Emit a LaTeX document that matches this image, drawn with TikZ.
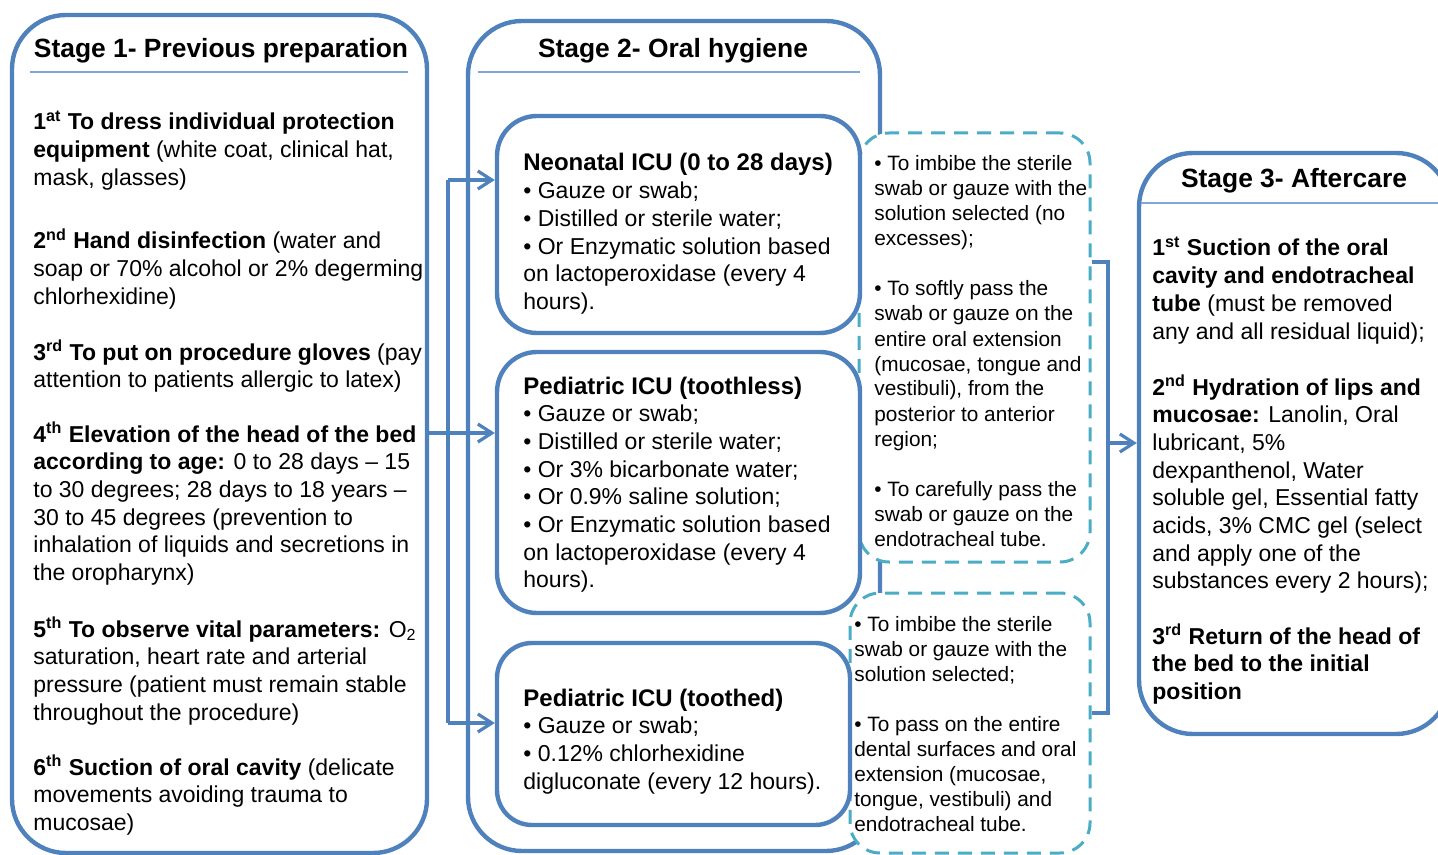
\documentclass[tikz,border=0pt]{standalone}
\usepackage{fontspec}
\setmainfont{Liberation Sans}
\usetikzlibrary{arrows.meta}
\definecolor{boxblue}{HTML}{4F81BD}
\definecolor{dashcyan}{HTML}{4BACC6}
\definecolor{seplight}{HTML}{7FA6D6}
\newcommand{\sps}[1]{\textsuperscript{#1}}
\newcommand{\hdr}[1]{{\fontsize{12}{13.85}\selectfont\bfseries #1}}
\begin{document}
\begin{tikzpicture}[x=0.5pt,y=-0.5pt,
  stagebox/.style={draw=boxblue, line width=2.2pt, fill=white, rounded corners=27pt, inner sep=0pt},
  innerbox/.style={draw=boxblue, line width=2.2pt, fill=white, rounded corners=20pt, inner sep=0pt},
  dashbox/.style={draw=dashcyan, line width=1.5pt, dash pattern=on 7pt off 4.5pt, fill=white, rounded corners=15pt, inner sep=0pt},
  sepline/.style={draw=seplight, line width=0.6pt},
  conn/.style={draw=boxblue, line width=1.6pt},
  arr/.style={-{Straight Barb[length=7pt,width=9pt]}},
  title/.style={anchor=base, inner sep=0pt, font=\fontsize{13.2}{15}\selectfont\bfseries},
  body/.style={anchor=base west, inner sep=0pt, font=\fontsize{11.5}{13.85}\selectfont},
  small/.style={anchor=base west, inner sep=0pt, font=\fontsize{10.4}{12.5}\selectfont},
]
\useasboundingbox (0,0) rectangle (1438,855);

% big stage boxes
\node[stagebox, minimum width=207.5pt, minimum height=419pt] (s1) at (219.5,434) {};
\node[stagebox, minimum width=206pt, minimum height=415pt] (s2) at (674,436) {};

% dashed boxes
\node[dashbox, minimum width=115.5pt, minimum height=214.5pt] (d1) at (974.5,347.5) {};
\node[dashbox, minimum width=120pt, minimum height=130pt] (d2) at (970,723) {};

% inner boxes
\node[innerbox, minimum width=181.5pt, minimum height=108.5pt] (neo) at (678.5,224.5) {};
\node[innerbox, minimum width=181.5pt, minimum height=130.5pt] (tl) at (678.5,482.5) {};
\node[innerbox, rounded corners=17.5pt, minimum width=176.5pt, minimum height=91pt] (td) at (673.5,734) {};

% stage 3
\node[stagebox, minimum width=155.5pt, minimum height=290.5pt] (s3) at (1294.5,443.5) {};

% titles and separators
\node[title] (t1) at (221,58) {Stage 1- Previous preparation};
\node[title] (t2) at (673,58) {Stage 2- Oral hygiene};
\node[title] (t3) at (1294,188) {Stage 3- Aftercare};
\draw[sepline] (30,72) -- (408,72);
\draw[sepline] (478,72) -- (860,72);
\draw[sepline] (1141,203) -- (1438,203);

% stage 1 text
\node[body] (p11) at (33,130) {\parbox[t]{215pt}{\raggedright
  \textbf{1\sps{at} To dress individual protection}\\
  \textbf{equipment} (white coat, clinical hat,\\
  mask, glasses)}};
\node[body] (p12) at (33,249) {\parbox[t]{215pt}{\raggedright
  \textbf{2\sps{nd} Hand disinfection} (water and\\
  soap or 70\% alcohol or 2\% degerming\\
  chlorhexidine)}};
\node[body] (p13) at (33,360) {\parbox[t]{215pt}{\raggedright
  \textbf{3\sps{rd} To put on procedure gloves} (pay\\
  attention to patients allergic to latex)}};
\node[body] (p14) at (33,442) {\parbox[t]{215pt}{\raggedright
  \textbf{4\sps{th} Elevation of the head of the bed}\\
  \textbf{according to age:} 0 to 28 days – 15\\
  to 30 degrees; 28 days to 18 years –\\
  30 to 45 degrees (prevention to\\
  inhalation of liquids and secretions in\\
  the oropharynx)}};
\node[body] (p15) at (33,637) {\parbox[t]{215pt}{\raggedright
  \textbf{5\sps{th} To observe vital parameters:} O\textsubscript{2}\\
  saturation, heart rate and arterial\\
  pressure (patient must remain stable\\
  throughout the procedure)}};
\node[body] (p16) at (33,775) {\parbox[t]{215pt}{\raggedright
  \textbf{6\sps{th} Suction of oral cavity} (delicate\\
  movements avoiding trauma to\\
  mucosae)}};

% inner box text
\node[body] (neot) at (523,171) {\parbox[t]{180pt}{\raggedright
  \hdr{Neonatal ICU (0 to 28 days)}\\
  • Gauze or swab;\\
  • Distilled or sterile water;\\
  • Or Enzymatic solution based\\
  on lactoperoxidase (every 4\\
  hours).}};
\node[body] (tlt) at (523,394) {\parbox[t]{180pt}{\raggedright
  \hdr{Pediatric ICU (toothless)}\\
  • Gauze or swab;\\
  • Distilled or sterile water;\\
  • Or 3\% bicarbonate water;\\
  • Or 0.9\% saline solution;\\
  • Or Enzymatic solution based\\
  on lactoperoxidase (every 4\\
  hours).}};
\node[body] (tdt) at (523,706) {\parbox[t]{180pt}{\raggedright
  \hdr{Pediatric ICU (toothed)}\\
  • Gauze or swab;\\
  • 0.12\% chlorhexidine\\
  digluconate (every 12 hours).}};

% dashed box text
\node[small] (d1a) at (874,171) {\parbox[t]{120pt}{\raggedright
  • To imbibe the sterile\\
  swab or gauze with the\\
  solution selected (no\\
  excesses);}};
\node[small] (d1b) at (874,296) {\parbox[t]{120pt}{\raggedright
  • To softly pass the\\
  swab or gauze on the\\
  entire oral extension\\
  (mucosae, tongue and\\
  vestibuli), from the\\
  posterior to anterior\\
  region;}};
\node[small] (d1c) at (874,496) {\parbox[t]{120pt}{\raggedright
  • To carefully pass the\\
  swab or gauze on the\\
  endotracheal tube.}};
\node[small] (d2a) at (854,631) {\parbox[t]{125pt}{\raggedright
  • To imbibe the sterile\\
  swab or gauze with the\\
  solution selected;}};
\node[small] (d2b) at (854,731) {\parbox[t]{125pt}{\raggedright
  • To pass on the entire\\
  dental surfaces and oral\\
  extension (mucosae,\\
  tongue, vestibuli) and\\
  endotracheal tube.}};

% stage 3 text
\node[body] (p31) at (1152,256) {\parbox[t]{150pt}{\raggedright
  \textbf{1\sps{st} Suction of the oral}\\
  \textbf{cavity and endotracheal}\\
  \textbf{tube} (must be removed\\
  any and all residual liquid);}};
\node[body] (p32) at (1152,395) {\parbox[t]{150pt}{\raggedright
  \textbf{2\sps{nd} Hydration of lips and}\\
  \textbf{mucosae:} Lanolin, Oral\\
  lubricant, 5\%\\
  dexpanthenol, Water\\
  soluble gel, Essential fatty\\
  acids, 3\% CMC gel (select\\
  and apply one of the\\
  substances every 2 hours);}};
\node[body] (p33) at (1152,644) {\parbox[t]{150pt}{\raggedright
  \textbf{3\sps{rd} Return of the head of}\\
  \textbf{the bed to the initial}\\
  \textbf{position}}};

% connectors stage 1 -> stage 2
\coordinate (sp1) at (448,180);
\coordinate (sp2) at (448,723);
\coordinate (mid) at (428,433);
\draw[conn] (sp1) -- (sp2);
\draw[conn, arr] (sp1) -- (neo.west |- sp1);
\draw[conn, arr] (sp2) -- (td.west |- sp2);
\draw[conn, arr] (s1.east |- mid) -- (tl.west |- mid);

% bracket and arrow to stage 3
\coordinate (bt) at (1108,262);
\coordinate (bb) at (1108,713);
\coordinate (bm) at (1108,443);
\draw[conn] (d1.east |- bt) -- (bt) -- (bb) -- (d2.east |- bb);
\draw[conn, arr] (bm) -- (s3.west |- bm);
\end{tikzpicture}
\end{document}
